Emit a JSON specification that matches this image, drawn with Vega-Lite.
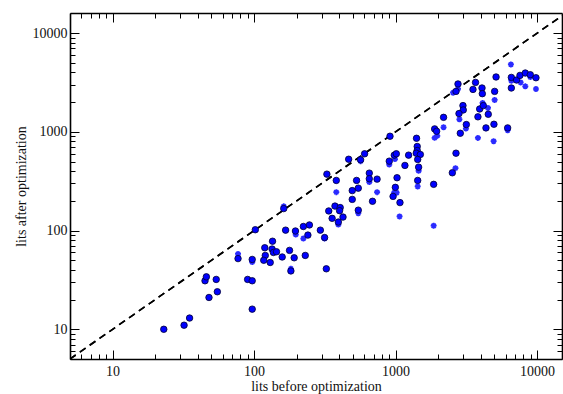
{
  "$schema": "https://vega.github.io/schema/vega-lite/v6.json",
  "width": 492,
  "height": 346,
  "autosize": {"type": "none"},
  "padding": {"left": 70, "top": 13, "right": 1, "bottom": 35},
  "background": "white",
  "config": {
    "view": {"stroke": null},
    "axis": {
      "grid": false,
      "labelFont": "Liberation Serif",
      "labelFontSize": 14,
      "labelColor": "#111",
      "titleFont": "Liberation Serif",
      "titleFontSize": 14,
      "titleFontWeight": "normal",
      "titleColor": "#111",
      "domainColor": "black",
      "domainWidth": 1.6,
      "tickColor": "black",
      "tickWidth": 1
    }
  },
  "datasets": {
    "diag": [{"x": 5, "y": 5}, {"x": 16000, "y": 16000}],
    "circles": [
      {"x": 23, "y": 10}, {"x": 32, "y": 11}, {"x": 35, "y": 13}, {"x": 45, "y": 31}, {"x": 46, "y": 34},
      {"x": 54, "y": 32}, {"x": 48, "y": 21}, {"x": 55, "y": 24}, {"x": 77, "y": 52}, {"x": 90, "y": 32},
      {"x": 97, "y": 31}, {"x": 97, "y": 16}, {"x": 97, "y": 51}, {"x": 102, "y": 102}, {"x": 119, "y": 67},
      {"x": 135, "y": 78}, {"x": 120, "y": 56}, {"x": 117, "y": 50}, {"x": 130, "y": 47.5}, {"x": 134, "y": 65},
      {"x": 137, "y": 60}, {"x": 144, "y": 61}, {"x": 158, "y": 54}, {"x": 178, "y": 63}, {"x": 192, "y": 53},
      {"x": 182, "y": 39}, {"x": 162, "y": 167}, {"x": 167, "y": 101}, {"x": 196, "y": 99}, {"x": 223, "y": 110},
      {"x": 246, "y": 114}, {"x": 240, "y": 90}, {"x": 230, "y": 56}, {"x": 294, "y": 101}, {"x": 315, "y": 85},
      {"x": 324, "y": 41}, {"x": 327, "y": 373}, {"x": 381, "y": 322}, {"x": 466, "y": 528}, {"x": 566, "y": 521},
      {"x": 604, "y": 600}, {"x": 373, "y": 177}, {"x": 337, "y": 158}, {"x": 356, "y": 133}, {"x": 394, "y": 122},
      {"x": 406, "y": 171}, {"x": 402, "y": 159}, {"x": 425, "y": 137}, {"x": 494, "y": 254}, {"x": 494, "y": 207},
      {"x": 530, "y": 322}, {"x": 545, "y": 269}, {"x": 545, "y": 161}, {"x": 652, "y": 382}, {"x": 652, "y": 335},
      {"x": 740, "y": 332}, {"x": 687, "y": 198}, {"x": 913, "y": 903}, {"x": 979, "y": 581}, {"x": 1012, "y": 600},
      {"x": 902, "y": 505}, {"x": 1236, "y": 581}, {"x": 1164, "y": 457}, {"x": 1024, "y": 343}, {"x": 996, "y": 274},
      {"x": 960, "y": 222}, {"x": 1074, "y": 192}, {"x": 1406, "y": 861}, {"x": 1422, "y": 711}, {"x": 1422, "y": 647},
      {"x": 1400, "y": 608}, {"x": 1496, "y": 590}, {"x": 1433, "y": 525}, {"x": 1455, "y": 439}, {"x": 1433, "y": 322},
      {"x": 1858, "y": 294}, {"x": 1888, "y": 1072}, {"x": 1950, "y": 1014}, {"x": 2183, "y": 1403}, {"x": 2673, "y": 608},
      {"x": 2518, "y": 385}, {"x": 2761, "y": 3055}, {"x": 2673, "y": 2571}, {"x": 2993, "y": 1845}, {"x": 3008, "y": 1667},
      {"x": 2806, "y": 1532}, {"x": 3162, "y": 1186}, {"x": 2866, "y": 968}, {"x": 3673, "y": 3170}, {"x": 3524, "y": 2692},
      {"x": 4081, "y": 2782}, {"x": 4102, "y": 2437}, {"x": 3929, "y": 1706}, {"x": 4169, "y": 1845}, {"x": 3819, "y": 1420},
      {"x": 4519, "y": 1507}, {"x": 4353, "y": 1097}, {"x": 4956, "y": 1194}, {"x": 5012, "y": 2571}, {"x": 5129, "y": 3597},
      {"x": 6194, "y": 1097}, {"x": 6577, "y": 3562}, {"x": 6577, "y": 2782}, {"x": 7160, "y": 3350}, {"x": 7570, "y": 3733},
      {"x": 8256, "y": 3944}, {"x": 8954, "y": 3793}, {"x": 9820, "y": 3534}
    ],
    "stars": [
      {"x": 77, "y": 58}, {"x": 97, "y": 48}, {"x": 162, "y": 176}, {"x": 182, "y": 41}, {"x": 197, "y": 91},
      {"x": 223, "y": 83}, {"x": 315, "y": 83}, {"x": 381, "y": 245}, {"x": 566, "y": 505}, {"x": 394, "y": 115},
      {"x": 545, "y": 150}, {"x": 652, "y": 310}, {"x": 740, "y": 245}, {"x": 990, "y": 530}, {"x": 902, "y": 466},
      {"x": 977, "y": 242}, {"x": 1017, "y": 242}, {"x": 1067, "y": 139}, {"x": 1455, "y": 403}, {"x": 1433, "y": 280},
      {"x": 1858, "y": 112}, {"x": 1970, "y": 912}, {"x": 1888, "y": 870}, {"x": 2183, "y": 1112}, {"x": 2650, "y": 429},
      {"x": 2548, "y": 2494}, {"x": 2761, "y": 2730}, {"x": 2825, "y": 1340}, {"x": 3140, "y": 1080}, {"x": 4121, "y": 1964},
      {"x": 4497, "y": 1747}, {"x": 3819, "y": 869}, {"x": 4930, "y": 804}, {"x": 5012, "y": 2104}, {"x": 6194, "y": 1040},
      {"x": 6577, "y": 3300}, {"x": 6530, "y": 4819}, {"x": 7650, "y": 3170}, {"x": 8256, "y": 2891}, {"x": 9820, "y": 2717},
      {"x": 8954, "y": 3600}
    ]
  },
  "resolve": {"axis": {"x": "independent", "y": "independent"}},
  "layer": [
    {
      "data": {"name": "diag"},
      "mark": {"type": "line", "color": "black", "strokeWidth": 1.6, "strokeDash": [7, 5], "clip": true},
      "encoding": {
        "x": {"field": "x", "type": "quantitative", "scale": {"type": "log", "domain": [5, 15000], "nice": false},
          "axis": {"orient": "top", "values": [10, 100, 1000, 10000], "labels": false, "tickSize": -9, "title": null}},
        "y": {"field": "y", "type": "quantitative", "scale": {"type": "log", "domain": [5, 16000], "nice": false},
          "axis": {"orient": "right", "values": [10, 100, 1000, 10000], "labels": false, "tickSize": -9, "title": null}}
      }
    },
    {
      "data": {"name": "diag"},
      "mark": {"type": "line", "color": "black", "strokeWidth": 1.6, "strokeDash": [7, 5], "clip": true},
      "encoding": {
        "x": {"field": "x", "type": "quantitative", "scale": {"type": "log", "domain": [5, 15000], "nice": false},
          "axis": {"orient": "top", "values": [5,6,7,8,9,20,30,40,50,60,70,80,90,200,300,400,500,600,700,800,900,2000,3000,4000,5000,6000,7000,8000,9000], "labels": false, "domain": false, "tickSize": -5, "title": null}},
        "y": {"field": "y", "type": "quantitative", "scale": {"type": "log", "domain": [5, 16000], "nice": false},
          "axis": {"orient": "right", "values": [5,6,7,8,9,20,30,40,50,60,70,80,90,200,300,400,500,600,700,800,900,2000,3000,4000,5000,6000,7000,8000,9000], "labels": false, "domain": false, "tickSize": -5, "title": null}}
      }
    },
    {
      "data": {"name": "stars"},
      "mark": {"type": "point", "shape": "M-1,0L1,0M0,-1L0,1M-0.7,-0.7L0.7,0.7M-0.7,0.7L0.7,-0.7", "filled": false, "stroke": "#2a2aff", "strokeWidth": 1.7, "size": 36, "opacity": 1},
      "encoding": {
        "x": {"field": "x", "type": "quantitative", "scale": {"type": "log", "domain": [5, 15000], "nice": false},
          "axis": {"orient": "bottom", "values": [5,6,7,8,9,20,30,40,50,60,70,80,90,200,300,400,500,600,700,800,900,2000,3000,4000,5000,6000,7000,8000,9000], "labels": false, "domain": false, "tickSize": -5, "title": null}},
        "y": {"field": "y", "type": "quantitative", "scale": {"type": "log", "domain": [5, 16000], "nice": false},
          "axis": {"orient": "left", "values": [5,6,7,8,9,20,30,40,50,60,70,80,90,200,300,400,500,600,700,800,900,2000,3000,4000,5000,6000,7000,8000,9000], "labels": false, "domain": false, "tickSize": -5, "title": null}}
      }
    },
    {
      "data": {"name": "circles"},
      "mark": {"type": "point", "shape": "circle", "filled": true, "fill": "#0000ff", "stroke": "#000030", "strokeWidth": 0.8, "size": 42, "opacity": 1},
      "encoding": {
        "x": {"field": "x", "type": "quantitative", "scale": {"type": "log", "domain": [5, 15000], "nice": false},
          "axis": {"orient": "bottom", "values": [10, 100, 1000, 10000], "format": "d", "tickSize": -9, "labelPadding": 14, "title": "lits before optimization", "titlePadding": 1}},
        "y": {"field": "y", "type": "quantitative", "scale": {"type": "log", "domain": [5, 16000], "nice": false},
          "axis": {"orient": "left", "values": [10, 100, 1000, 10000], "format": "d", "tickSize": -9, "labelPadding": 12, "title": "lits after optimization", "titlePadding": 4}}
      }
    }
  ]
}
